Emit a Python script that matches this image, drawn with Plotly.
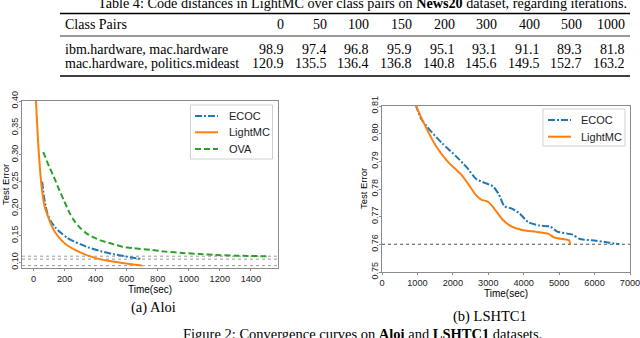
import plotly.graph_objects as go

W, H = 640, 338
def fx(x): return x / W
def fy(y): return 1 - y / H

# ---------------- Table data ----------------
table_iters = ["0", "50", "100", "150", "200", "300", "400", "500", "1000"]
class_pairs = ["ibm.hardware, mac.hardware", "mac.hardware, politics.mideast"]
dist_ibm_mac = [98.9, 97.4, 96.8, 95.9, 95.1, 93.1, 91.1, 89.3, 81.8]
dist_mac_pol = [120.9, 135.5, 136.4, 136.8, 140.8, 145.6, 149.5, 152.7, 163.2]

# ---------------- Aloi ----------------
aloi_ecoc_t = [55, 65, 77, 90, 110, 140, 175, 215, 260, 300, 360, 430, 500, 560, 630, 700]
aloi_ecoc_err = [0.250, 0.225, 0.205, 0.190, 0.177, 0.165, 0.155, 0.146, 0.139, 0.134,
                 0.127, 0.121, 0.116, 0.113, 0.109, 0.106]
aloi_lightmc_t = [10, 15, 30, 42, 55, 70, 87, 110, 140, 180, 220, 270, 330, 400, 480, 560, 630, 700]
aloi_lightmc_err = [0.44, 0.400, 0.318, 0.270, 0.232, 0.205, 0.190, 0.172, 0.155, 0.141, 0.131,
                    0.123, 0.115, 0.108, 0.103, 0.0995, 0.0965, 0.094]
aloi_ova_t = [62, 100, 130, 160, 194, 230, 260, 300, 340, 390, 430, 500, 560, 640, 750, 850,
              960, 1070, 1170, 1300, 1400, 1500]
aloi_ova_err = [0.305, 0.278, 0.259, 0.238, 0.216, 0.193, 0.178, 0.164, 0.154, 0.146, 0.141,
                0.135, 0.130, 0.1265, 0.1235, 0.120, 0.1175, 0.1155, 0.1138, 0.1125, 0.1118, 0.1115]

# ---------------- LSHTC1 ----------------
lshtc_ecoc_t = [950, 1100, 1350, 1700, 2100, 2380, 2660, 2900, 3130, 3300, 3450, 3650, 3880,
                4130, 4440, 4750, 4950, 5380, 5570, 6040, 6410, 6700]
lshtc_ecoc_err = [0.8105, 0.8055, 0.8013, 0.7965, 0.7917, 0.7880, 0.7836, 0.7822, 0.7810,
                  0.7780, 0.7738, 0.7730, 0.7712, 0.7680, 0.7668, 0.7664, 0.7646, 0.7635,
                  0.7620, 0.7613, 0.7606, 0.7600]
lshtc_lightmc_t = [900, 1000, 1250, 1550, 1850, 2050, 2250, 2450, 2650, 2800, 3000, 3150, 3400,
                   3650, 3950, 4350, 4700, 4850, 5150, 5280, 5310]
lshtc_lightmc_err = [0.8125, 0.8090, 0.8020, 0.7950, 0.7900, 0.7875, 0.7850, 0.7815, 0.7778,
                     0.7762, 0.7753, 0.7732, 0.7690, 0.7665, 0.7652, 0.7645, 0.7638, 0.7625,
                     0.7618, 0.7615, 0.7600]

BLUE, ORANGE, GREEN = "#1f77b4", "#ff7f0e", "#2ca02c"
DASHDOT, DASHED = "7px,2px,2px,2px", "6px,3px"
SANS = "Liberation Sans"
SERIF = "Liberation Serif"

fig = go.Figure()

def line(x, y, name, color, dash, xa, ya):
    fig.add_trace(go.Scatter(x=x, y=y, name=name, mode="lines", xaxis=xa, yaxis=ya,
                             showlegend=False,
                             line=dict(color=color, width=2, dash=dash,
                                       shape="spline", smoothing=0.6)))

line(aloi_ecoc_t, aloi_ecoc_err, "ECOC", BLUE, DASHDOT, "x", "y")
line(aloi_lightmc_t, aloi_lightmc_err, "LightMC", ORANGE, "solid", "x", "y")
line(aloi_ova_t, aloi_ova_err, "OVA", GREEN, DASHED, "x", "y")
line(lshtc_ecoc_t, lshtc_ecoc_err, "ECOC", BLUE, DASHDOT, "x2", "y2")
line(lshtc_lightmc_t, lshtc_lightmc_err, "LightMC", ORANGE, "solid", "x2", "y2")

shapes = []
for v in [min(aloi_ecoc_err), min(aloi_lightmc_err), min(aloi_ova_err)]:
    shapes.append(dict(type="line", xref="x domain", yref="y", x0=0, x1=1, y0=v, y1=v,
                       line=dict(color="#9a9a9a", width=1, dash="dot"), layer="below"))
for v in [min(lshtc_ecoc_err), min(lshtc_lightmc_err)]:
    shapes.append(dict(type="line", xref="x2 domain", yref="y2", x0=0, x1=1, y0=v, y1=v,
                       line=dict(color="#777777", width=1, dash="dot"), layer="below"))

# table rules
TL, TR = 60, 630
for yy, w in [(13.5, 1.5), (36, 0.8), (76, 1.5)]:
    shapes.append(dict(type="line", xref="paper", yref="paper", x0=fx(TL), x1=fx(TR),
                       y0=fy(yy), y1=fy(yy), line=dict(color="black", width=w)))

ann = []
def text(x, y, s, size=13.5, family=SERIF, xanchor="center", angle=0, color="black"):
    ann.append(dict(x=fx(x), y=fy(y), xref="paper", yref="paper", text=s, showarrow=False,
                    xanchor=xanchor, yanchor="middle", textangle=angle,
                    font=dict(family=family, size=size, color=color)))

text(362, 3.5, "Table 4: Code distances in LightMC over class pairs on <b>News20</b> dataset, regarding iterations.", size=14.2)
col_right = [627 - (8 - k) * 42.6 for k in range(9)]
text(63, 24.5, "Class Pairs", xanchor="left", size=14)
for k, lab in enumerate(table_iters):
    text(col_right[k], 24.5, lab, xanchor="right", size=14)
rows = [(49.5, class_pairs[0], dist_ibm_mac), (63.5, class_pairs[1], dist_mac_pol)]
for yy, lab, vals in rows:
    text(63, yy, lab, xanchor="left", size=14)
    for k, v in enumerate(vals):
        text(col_right[k], yy, f"{v:.1f}", xanchor="right", size=14)

# axis titles
text(5, 185, "Test Error", size=9.5, family=SANS, angle=-90)
text(150, 289, "Time(sec)", size=10, family=SANS)
text(363, 189, "Test Error", size=9.5, family=SANS, angle=-90)
text(506, 293, "Time(sec)", size=10, family=SANS)

# captions
text(153, 307, "(a) Aloi", size=14.5)
text(490, 316, "(b) LSHTC1", size=14.5)
text(362, 334, "Figure 2: Convergence curves on <b>Aloi</b> and <b>LSHTC1</b> datasets.", size=14.5)

# legends (box, sample line, label)
def legend(box, entries, sx0, sx1, tx):
    x0, y0, x1, y1 = box
    shapes.append(dict(type="rect", xref="paper", yref="paper", x0=fx(x0), x1=fx(x1),
                       y0=fy(y1), y1=fy(y0), fillcolor="rgba(255,255,255,0.85)",
                       line=dict(color="#d0d0d0", width=1)))
    for yy, name, color, dash in entries:
        shapes.append(dict(type="line", xref="paper", yref="paper", x0=fx(sx0), x1=fx(sx1),
                           y0=fy(yy), y1=fy(yy), line=dict(color=color, width=2, dash=dash)))
        text(tx, yy, name, size=11, family=SANS, xanchor="left", color="#222")

legend((190.5, 105, 272.5, 159),
       [(116, "ECOC", BLUE, DASHDOT), (132.3, "LightMC", ORANGE, "solid"), (149, "OVA", GREEN, DASHED)],
       195, 218, 227)
legend((543, 109, 625, 146),
       [(120, "ECOC", BLUE, DASHDOT), (136.7, "LightMC", ORANGE, "solid")],
       548, 571, 579)

axis_common = dict(showline=True, mirror=True, linecolor="#8a8a8a", linewidth=1,
                   ticks="outside", ticklen=2, tickcolor="#8a8a8a", showgrid=False,
                   zeroline=False, ticklabeloverflow="allow", automargin=False)
xfont = dict(family=SANS, size=9.2, color="#222")
yfont = dict(family=SANS, size=9, color="#222")
yaxis_extra = dict(tickformat=".2f", tickangle=-90, ticklabelstandoff=-3, tickfont=yfont)

fig.update_layout(
    template="none",
    width=W, height=H, autosize=False,
    margin=dict(l=0, r=0, t=0, b=0, pad=0, autoexpand=False),
    paper_bgcolor="white", plot_bgcolor="white", showlegend=False,
    xaxis=dict(domain=[fx(22), fx(278)], range=[-75, 1575], anchor="y", tickfont=xfont,
               tickvals=[0, 200, 400, 600, 800, 1000, 1200, 1400], **axis_common),
    yaxis=dict(domain=[fy(267.5), fy(101)], range=[0.0905, 0.40], anchor="x",
               tickvals=[0.10, 0.15, 0.20, 0.25, 0.30, 0.35, 0.40],
               **yaxis_extra, **axis_common),
    xaxis2=dict(domain=[fx(382), fx(630)], range=[0, 7000], anchor="y2", tickfont=xfont,
                tickvals=[0, 1000, 2000, 3000, 4000, 5000, 6000, 7000], **axis_common),
    yaxis2=dict(domain=[fy(272), fy(106)], range=[0.75, 0.81], anchor="x2",
                tickvals=[0.75, 0.76, 0.77, 0.78, 0.79, 0.80, 0.81],
                **yaxis_extra, **axis_common),
    shapes=shapes, annotations=ann,
)

fig.write_html("out.html", config={"displayModeBar": False},
               post_script="document.body.style.margin='0';")
